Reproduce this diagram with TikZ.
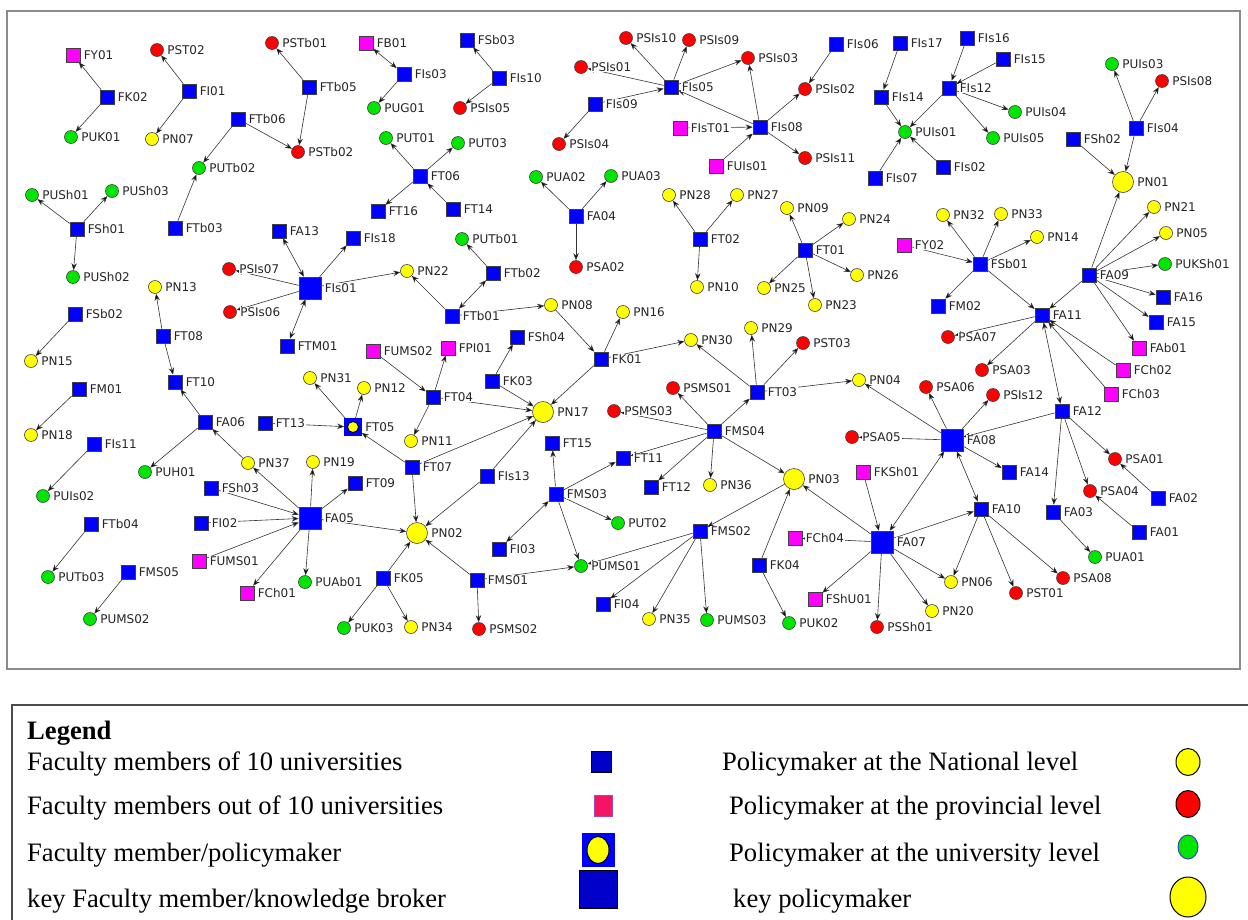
\documentclass[tikz,border=0pt]{standalone}
\usepackage{fontspec}
\setmainfont{Liberation Serif}
\newfontfamily\netfont{DejaVu Sans}
\usetikzlibrary{arrows.meta,backgrounds,shapes.geometric}
\definecolor{facblue}{RGB}{0,0,255}
\definecolor{extpink}{RGB}{255,0,255}
\definecolor{pnyellow}{RGB}{255,255,0}
\definecolor{provred}{RGB}{255,0,0}
\definecolor{unigreen}{RGB}{0,230,0}
\definecolor{legblue}{RGB}{0,0,200}
\definecolor{legpink}{RGB}{245,20,100}
\begin{document}
\begin{tikzpicture}
  [x=1pt,y=-1pt,
   every label/.style={font=\netfont\fontsize{12}{14}\selectfont,fill=white,inner sep=0.8pt,label distance=2.5pt,text=black!85},
   nd/.style={draw=black!75,line width=0.6pt,inner sep=0pt,label=right:#1},
   fac/.style={nd=#1,rectangle,fill=facblue,minimum size=14pt},
   keyfac/.style={nd=#1,rectangle,fill=facblue,minimum size=22pt},
   ext/.style={nd=#1,rectangle,fill=extpink,minimum size=14pt},
   both/.style={nd=#1,rectangle,fill=facblue,draw=facblue,minimum size=17pt},
   bothin/.style={circle,draw=black,line width=0.9pt,fill=pnyellow,minimum size=11pt,inner sep=0pt},
   pn/.style={nd=#1,circle,fill=pnyellow,minimum size=13pt},
   keypn/.style={nd=#1,circle,fill=pnyellow,minimum size=21pt},
   prov/.style={nd=#1,circle,fill=provred,minimum size=13pt},
   uni/.style={nd=#1,circle,fill=unigreen,minimum size=13pt},
   arr/.style={-{Stealth[length=7pt,width=5.5pt]},draw=black!80,line width=0.6pt},
   arr2/.style={{Stealth[length=7pt,width=5.5pt]}-{Stealth[length=7pt,width=5.5pt]},draw=black!80,line width=0.6pt},
   legtext/.style={anchor=west,inner sep=0pt,font=\fontsize{26.6}{30}\selectfont},
   legsym/.style={draw=black,line width=1pt,inner sep=0pt}]
\useasboundingbox (0,0) rectangle (1248,919);
\node[ext=FY01] (FY01) at (73,55) {};
\node[fac=FK02] (FK02) at (107,97) {};
\node[uni=PUK01] (PUK01) at (71,137) {};
\node[prov=PST02] (PST02) at (157,50) {};
\node[fac=FI01] (FI01) at (189,91) {};
\node[pn=PN07] (PN07) at (152,139) {};
\node[prov=PSTb01] (PSTb01) at (272,43) {};
\node[fac=FTb05] (FTb05) at (309,87) {};
\node[prov=PSTb02] (PSTb02) at (298,152) {};
\node[fac=FTb06] (FTb06) at (238,119) {};
\node[uni=PUTb02] (PUTb02) at (199,168) {};
\node[ext=FB01] (FB01) at (366,43) {};
\node[fac=FIs03] (FIs03) at (404,74) {};
\node[uni=PUG01] (PUG01) at (374,108) {};
\node[uni=PUT01] (PUT01) at (386,138) {};
\node[uni=PUT03] (PUT03) at (458,143) {};
\node[fac=FT06] (FT06) at (420,176) {};
\node[fac=FT16] (FT16) at (378,211) {};
\node[fac=FT14] (FT14) at (453,209) {};
\node[fac=FSb03] (FSb03) at (467,40) {};
\node[fac=FIs10] (FIs10) at (499,78) {};
\node[prov=PSIs05] (PSIs05) at (460,108) {};
\node[uni=PUSh01] (PUSh01) at (32,195) {};
\node[uni=PUSh03] (PUSh03) at (112,191) {};
\node[fac=FSh01] (FSh01) at (77,229) {};
\node[uni=PUSh02] (PUSh02) at (73,277) {};
\node[fac=FTb03] (FTb03) at (175,228) {};
\node[fac=FA13] (FA13) at (279,231) {};
\node[fac=FIs18] (FIs18) at (353,238) {};
\node[prov=PSIs07] (PSIs07) at (229,269) {};
\node[keyfac=FIs01] (FIs01) at (310,288) {};
\node[prov=PSIs06] (PSIs06) at (230,312) {};
\node[fac=FTM01] (FTM01) at (287,346) {};
\node[pn=PN22] (PN22) at (407,271) {};
\node[pn=PN13] (PN13) at (155,287) {};
\node[fac=FT08] (FT08) at (163,336) {};
\node[fac=FT10] (FT10) at (175,382) {};
\node[fac=FSb02] (FSb02) at (75,314) {};
\node[pn=PN15] (PN15) at (31,361) {};
\node[fac=FM01] (FM01) at (79,389) {};
\node[pn=PN18] (PN18) at (31,435) {};
\node[fac=FIs11] (FIs11) at (94,444) {};
\node[uni=PUIs02] (PUIs02) at (43,496) {};
\node[fac=FTb04] (FTb04) at (91,524) {};
\node[uni=PUTb03] (PUTb03) at (48,577) {};
\node[fac=FMS05] (FMS05) at (128,572) {};
\node[uni=PUMS02] (PUMS02) at (90,619) {};
\node[fac=FA06] (FA06) at (205,422) {};
\node[uni=PUH01] (PUH01) at (145,472) {};
\node[pn=PN37] (PN37) at (248,463) {};
\node[pn=PN19] (PN19) at (313,462) {};
\node[fac=FT09] (FT09) at (355,483) {};
\node[fac=FSh03] (FSh03) at (211,488) {};
\node[keyfac=FA05] (FA05) at (310,518) {};
\node[fac=FI02] (FI02) at (201,523) {};
\node[ext=FUMS01] (FUMS01) at (199,561) {};
\node[ext=FCh01] (FCh01) at (247,593) {};
\node[uni=PUAb01] (PUAb01) at (305,582) {};
\node[fac=FK05] (FK05) at (383,578) {};
\node[uni=PUK03] (PUK03) at (344,628) {};
\node[pn=PN34] (PN34) at (411,627) {};
\node[fac=FT13] (FT13) at (265,423) {};
\node[both=FT05] (FT05) at (353,427) {};
\node[bothin] (FT05in) at (FT05) {};
\node[pn=PN31] (PN31) at (310,378) {};
\node[pn=PN12] (PN12) at (364,388) {};
\node[ext=FUMS02] (FUMS02) at (373,351) {};
\node[ext=FPI01] (FPI01) at (448,348) {};
\node[fac=FT04] (FT04) at (433,397) {};
\node[pn=PN11] (PN11) at (411,441) {};
\node[fac=FT07] (FT07) at (412,467) {};
\node[fac=FIs13] (FIs13) at (487,476) {};
\node[keypn=PN02] (PN02) at (417,533) {};
\node[fac=FMS01] (FMS01) at (477,580) {};
\node[prov=PSMS02] (PSMS02) at (479,629) {};
\node[uni=PUTb01] (PUTb01) at (462,239) {};
\node[fac=FTb02] (FTb02) at (493,273) {};
\node[fac=FTb01] (FTb01) at (452,316) {};
\node[pn=PN08] (PN08) at (551,305) {};
\node[pn=PN16] (PN16) at (623,312) {};
\node[fac=FSh04] (FSh04) at (517,337) {};
\node[fac=FK03] (FK03) at (492,381) {};
\node[fac=FK01] (FK01) at (601,359) {};
\node[keypn=PN17] (PN17) at (543,412) {};
\node[uni=PUA02] (PUA02) at (536,177) {};
\node[uni=PUA03] (PUA03) at (611,176) {};
\node[fac=FA04] (FA04) at (576,216) {};
\node[prov=PSA02] (PSA02) at (576,267) {};
\node[prov=PSIs10] (PSIs10) at (626,38) {};
\node[prov=PSIs09] (PSIs09) at (689,40) {};
\node[prov=PSIs01] (PSIs01) at (581,67) {};
\node[fac=FIs05] (FIs05) at (671,87) {};
\node[fac=FIs09] (FIs09) at (595,104) {};
\node[prov=PSIs04] (PSIs04) at (559,144) {};
\node[prov=PSIs03] (PSIs03) at (748,58) {};
\node[ext=FIsT01] (FIsT01) at (680,128) {};
\node[fac=FIs08] (FIs08) at (760,127) {};
\node[ext=FUIs01] (FUIs01) at (716,166) {};
\node[prov=PSIs02] (PSIs02) at (805,89) {};
\node[prov=PSIs11] (PSIs11) at (805,158) {};
\node[fac=FIs06] (FIs06) at (836,44) {};
\node[pn=PN28] (PN28) at (669,195) {};
\node[pn=PN27] (PN27) at (737,195) {};
\node[fac=FT02] (FT02) at (700,239) {};
\node[pn=PN10] (PN10) at (697,287) {};
\node[pn=PN09] (PN09) at (787,208) {};
\node[pn=PN24] (PN24) at (849,219) {};
\node[fac=FT01] (FT01) at (805,250) {};
\node[pn=PN25] (PN25) at (764,288) {};
\node[pn=PN23] (PN23) at (815,305) {};
\node[pn=PN26] (PN26) at (857,275) {};
\node[fac=FIs17] (FIs17) at (900,43) {};
\node[fac=FIs14] (FIs14) at (881,97) {};
\node[fac=FIs16] (FIs16) at (967,38) {};
\node[fac=FIs15] (FIs15) at (1003,59) {};
\node[fac=FIs12] (FIs12) at (949,88) {};
\node[uni=PUIs04] (PUIs04) at (1015,112) {};
\node[uni=PUIs01] (PUIs01) at (905,132) {};
\node[uni=PUIs05] (PUIs05) at (993,138) {};
\node[fac=FIs07] (FIs07) at (875,178) {};
\node[fac=FIs02] (FIs02) at (943,167) {};
\node[uni=PUIs03] (PUIs03) at (1112,64) {};
\node[prov=PSIs08] (PSIs08) at (1162,81) {};
\node[fac=FIs04] (FIs04) at (1136,128) {};
\node[fac=FSh02] (FSh02) at (1073,139) {};
\node[keypn=PN01] (PN01) at (1123,182) {};
\node[pn=PN21] (PN21) at (1154,207) {};
\node[pn=PN05] (PN05) at (1166,233) {};
\node[pn=PN32] (PN32) at (943,215) {};
\node[pn=PN33] (PN33) at (1001,214) {};
\node[pn=PN14] (PN14) at (1037,237) {};
\node[ext=FY02] (FY02) at (904,245) {};
\node[fac=FSb01] (FSb01) at (980,264) {};
\node[fac=FM02] (FM02) at (938,306) {};
\node[fac=FA09] (FA09) at (1089,275) {};
\node[uni=PUKSh01] (PUKSh01) at (1165,264) {};
\node[fac=FA16] (FA16) at (1163,297) {};
\node[fac=FA15] (FA15) at (1156,322) {};
\node[ext=FAb01] (FAb01) at (1139,348) {};
\node[fac=FA11] (FA11) at (1042,315) {};
\node[prov=PSA07] (PSA07) at (948,337) {};
\node[prov=PSA03] (PSA03) at (982,370) {};
\node[ext=FCh02] (FCh02) at (1123,370) {};
\node[ext=FCh03] (FCh03) at (1111,394) {};
\node[fac=FA12] (FA12) at (1062,411) {};
\node[pn=PN30] (PN30) at (691,340) {};
\node[pn=PN29] (PN29) at (751,328) {};
\node[prov=PST03] (PST03) at (803,343) {};
\node[prov=PSMS01] (PSMS01) at (673,388) {};
\node[fac=FT03] (FT03) at (757,392) {};
\node[pn=PN04] (PN04) at (859,380) {};
\node[prov=PSMS03] (PSMS03) at (614,411) {};
\node[fac=FMS04] (FMS04) at (714,431) {};
\node[fac=FT15] (FT15) at (552,443) {};
\node[fac=FT11] (FT11) at (623,458) {};
\node[fac=FT12] (FT12) at (651,487) {};
\node[pn=PN36] (PN36) at (710,485) {};
\node[keypn=PN03] (PN03) at (794,479) {};
\node[fac=FMS03] (FMS03) at (556,494) {};
\node[uni=PUT02] (PUT02) at (618,523) {};
\node[fac=FI03] (FI03) at (499,549) {};
\node[uni=PUMS01] (PUMS01) at (581,566) {};
\node[fac=FMS02] (FMS02) at (700,531) {};
\node[fac=FI04] (FI04) at (603,604) {};
\node[pn=PN35] (PN35) at (649,619) {};
\node[uni=PUMS03] (PUMS03) at (707,620) {};
\node[ext=FCh04] (FCh04) at (795,538) {};
\node[fac=FK04] (FK04) at (759,565) {};
\node[uni=PUK02] (PUK02) at (789,623) {};
\node[prov=PSA06] (PSA06) at (926,387) {};
\node[prov=PSIs12] (PSIs12) at (993,395) {};
\node[prov=PSA05] (PSA05) at (852,437) {};
\node[keyfac=FA08] (FA08) at (952,440) {};
\node[fac=FA14] (FA14) at (1009,472) {};
\node[ext=FKSh01] (FKSh01) at (863,472) {};
\node[prov=PSA01] (PSA01) at (1115,459) {};
\node[prov=PSA04] (PSA04) at (1090,491) {};
\node[fac=FA02] (FA02) at (1158,498) {};
\node[fac=FA10] (FA10) at (981,509) {};
\node[fac=FA03] (FA03) at (1053,512) {};
\node[fac=FA01] (FA01) at (1139,532) {};
\node[keyfac=FA07] (FA07) at (882,542) {};
\node[uni=PUA01] (PUA01) at (1095,557) {};
\node[prov=PSA08] (PSA08) at (1063,578) {};
\node[pn=PN06] (PN06) at (951,582) {};
\node[prov=PST01] (PST01) at (1016,593) {};
\node[ext=FShU01] (FShU01) at (815,599) {};
\node[pn=PN20] (PN20) at (932,611) {};
\node[prov=PSSh01] (PSSh01) at (877,627) {};
\begin{scope}[on background layer]
\draw[draw=black!45,line width=1.2pt] (7,11) rectangle (1240,669);
\draw[arr] (FK02) edge (FY01) edge (PUK01);
\draw[arr] (FI01) edge (PST02) edge (PN07);
\draw[arr] (FTb05) edge (PSTb01) edge (PSTb02);
\draw[arr] (FTb06) edge (PSTb02) edge (PUTb02);
\draw[arr] (FTb03) edge (PUTb02);
\draw[arr2] (FIs03) edge (FB01);
\draw[arr] (FIs03) edge (PUG01);
\draw[arr] (FIs10) edge (FSb03) edge (PSIs05);
\draw[arr] (FT06) edge (PUT01) edge (PUT03) edge (FT16);
\draw[arr] (FT14) edge (FT06);
\draw[arr] (FSh01) edge (PUSh01) edge (PUSh03) edge (PUSh02);
\draw[arr] (FSb02) edge (PN15);
\draw[arr] (FM01) edge (PN18);
\draw[arr] (FIs11) edge (PUIs02);
\draw[arr] (FTb04) edge (PUTb03);
\draw[arr] (FMS05) edge (PUMS02);
\draw[arr2] (FIs01) edge (FA13) edge (FTM01);
\draw[arr] (FIs01) edge (FIs18) edge (PSIs07) edge (PSIs06) edge (PN22);
\draw[arr] (FTb01) edge (PN22) edge (PN08);
\draw[arr2] (FTb02) edge (FTb01);
\draw[arr] (FTb02) edge (PUTb01);
\draw[arr] (PN08) edge (FK01);
\draw[arr] (FK01) edge (PN16) edge (PN30) edge (PN17);
\draw[arr] (FK03) edge (FSh04) edge (PN17);
\draw[arr] (FT04) edge (PN17) edge (FPI01) edge (PN11);
\draw[arr] (FUMS02) edge (FT04);
\draw[arr] (FT07) edge (PN17) edge (FT05) edge (PN02);
\draw[arr] (FIs13) edge (PN17) edge (PN02);
\draw[arr] (FT13) edge (FT05);
\draw[arr] (FT05) edge (PN31) edge (PN12);
\draw[arr] (FMS01) edge (PN02) edge (PSMS02) edge (PUMS01);
\draw[arr] (FA05) edge (PN02) edge (PN37) edge (PN19) edge (FT09) edge (FCh01) edge (PUAb01);
\draw[arr] (FK05) edge (PN02) edge (PUK03) edge (PN34);
\draw[arr] (FT08) edge (PN13) edge (FT10);
\draw[arr] (FA06) edge (FT10) edge (PUH01);
\draw[arr] (PN37) edge (FA06);
\draw[arr] (FSh03) edge (FA05);
\draw[arr] (FI02) edge (FA05);
\draw[arr] (FUMS01) edge (FA05);
\draw[arr] (FA04) edge (PUA02) edge (PUA03) edge (PSA02);
\draw[arr] (FIs05) edge (PSIs10) edge (PSIs09) edge (PSIs01) edge (PSIs03);
\draw[arr] (FIs09) edge (FIs05) edge (PSIs04);
\draw[arr] (FIs08) edge (FIs05) edge (PSIs03) edge (PSIs02) edge (PSIs11);
\draw[arr] (FIsT01) edge (FIs08);
\draw[arr] (FUIs01) edge (FIs08);
\draw[arr] (FIs06) edge (PSIs02);
\draw[arr] (FIs17) edge (FIs14);
\draw[arr] (FIs14) edge (PUIs01);
\draw[arr] (FIs16) edge (FIs12);
\draw[arr] (FIs15) edge (FIs12);
\draw[arr] (FIs12) edge (PUIs01) edge (PUIs04) edge (PUIs05);
\draw[arr] (FIs07) edge (PUIs01);
\draw[arr] (FIs02) edge (PUIs01);
\draw[arr] (FIs04) edge (PUIs03) edge (PSIs08) edge (PN01);
\draw[arr] (FSh02) edge (PN01);
\draw[arr] (FA09) edge (PN01) edge (PN21) edge (PN05) edge (PUKSh01) edge (FA16) edge (FA15) edge (FAb01) edge (FA11);
\draw[arr] (FT02) edge (PN28) edge (PN27) edge (PN10);
\draw[arr] (FT01) edge (PN09) edge (PN24) edge (PN26) edge (PN23) edge (PN25);
\draw[arr] (FSb01) edge (PN32) edge (PN33) edge (PN14) edge (FM02) edge (FA11);
\draw[arr] (FY02) edge (FSb01);
\draw[arr] (FA11) edge (PSA07) edge (PSA03);
\draw[arr] (FCh02) edge (FA11);
\draw[arr] (FCh03) edge (FA11);
\draw[arr2] (FA11) edge (FA12);
\draw[arr] (FA12) edge (FA08) edge (PSA01) edge (PSA04) edge (FA03);
\draw[arr] (FA02) edge (PSA01);
\draw[arr] (FA01) edge (PSA04);
\draw[arr] (FA03) edge (PUA01);
\draw[arr] (FA08) edge (PN04) edge (PSA06) edge (PSIs12) edge (PSA05) edge (FA14);
\draw[arr2] (FA08) edge (FA10) edge (FA07);
\draw[arr] (FA07) edge (FA10) edge (FCh04) edge (FShU01) edge (PSSh01) edge (PN20) edge (PN06) edge (PN03);
\draw[arr] (FKSh01) edge (FA07);
\draw[arr] (FA10) edge (PN06) edge (PST01) edge (PSA08);
\draw[arr] (FK04) edge (PN03) edge (PUK02);
\draw[arr] (PN03) edge (FMS02);
\draw[arr] (FMS02) edge (PUMS01) edge (FI04) edge (PN35) edge (PUMS03);
\draw[arr] (FMS04) edge (PN03) edge (PN36) edge (FT12) edge (FT11) edge (FT03) edge (PSMS01) edge (PSMS03);
\draw[arr] (FMS03) edge (FT11) edge (FT15) edge (PUT02) edge (PUMS01);
\draw[arr2] (FMS03) edge (FI03);
\draw[arr] (FT03) edge (PN30) edge (PN29) edge (PST03) edge (PN04);
\end{scope}
\draw[draw=black!70,line width=1.5pt] (12,705) rectangle (1262,935);
\node[legtext,font=\bfseries\fontsize{26.6}{30}\selectfont] (leghead) at (27,733) {Legend};
\node[legtext] (legt1) at (27,764) {Faculty members of 10 universities};
\node[legtext] (legt2) at (27,808) {Faculty members out of 10 universities};
\node[legtext] (legt3) at (27,855) {Faculty member/policymaker};
\node[legtext] (legt4) at (27,901) {key Faculty member/knowledge broker};
\node[legtext] (legt5) at (722,764) {Policymaker at the National level};
\node[legtext] (legt6) at (729,808) {Policymaker at the provincial level};
\node[legtext] (legt7) at (729,855) {Policymaker at the university level};
\node[legtext] (legt8) at (733,901) {key policymaker};
\node[legsym,rectangle,fill=legblue,minimum width=20pt,minimum height=21pt] (legfac) at (601,762) {};
\node[legsym,rectangle,draw=violet!70,fill=legpink,minimum width=18pt,minimum height=21pt] (legext) at (603,806) {};
\node[legsym,rectangle,draw=facblue,fill=facblue,minimum width=32pt,minimum height=33pt] (legboth) at (598,850) {};
\node[legsym,ellipse,fill=pnyellow,minimum width=22pt,minimum height=27pt] (legbothin) at (legboth) {};
\node[legsym,rectangle,fill=legblue,minimum size=38pt] (legkeyfac) at (598,889) {};
\node[legsym,ellipse,fill=pnyellow,minimum width=24pt,minimum height=27pt] (legpn) at (1188,762) {};
\node[legsym,ellipse,fill=provred,minimum width=24pt,minimum height=27pt] (legprov) at (1188,804) {};
\node[legsym,ellipse,draw=blue!50!gray,fill=unigreen,minimum width=20pt,minimum height=24pt] (leguni) at (1188,847) {};
\node[legsym,ellipse,fill=pnyellow,minimum width=36pt,minimum height=40pt] (legkeypn) at (1188,897) {};
\end{tikzpicture}
\end{document}
